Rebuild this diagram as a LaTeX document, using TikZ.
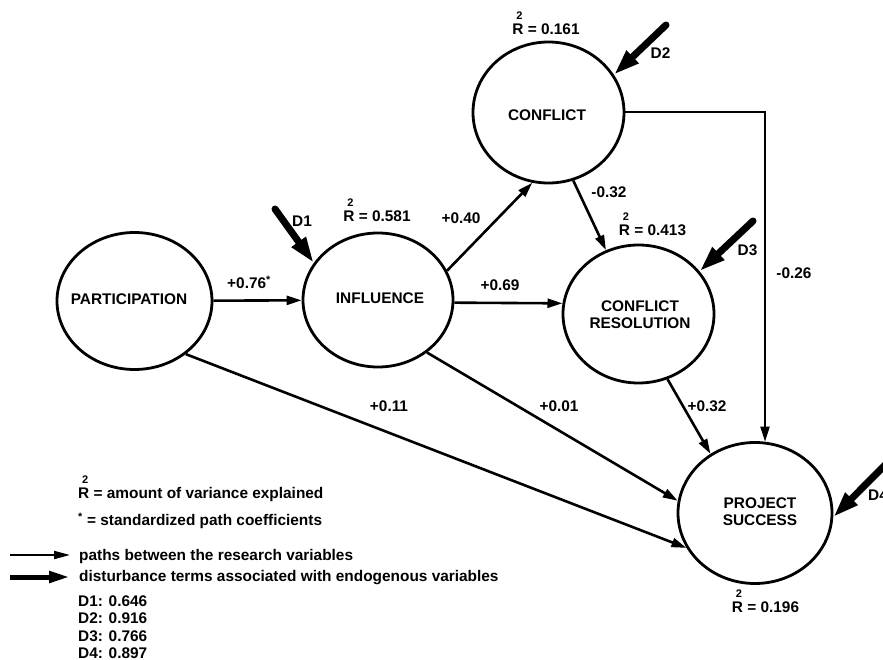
\documentclass[tikz,border=0pt]{standalone}
\usepackage{fontspec}
\setmainfont{Liberation Sans}
\usetikzlibrary{arrows.meta,shapes.geometric}
\newcommand\Rtwo{\makebox[0pt][l]{\hspace{0.26em}\raisebox{0.95em}{\fontsize{11bp}{11bp}\selectfont 2}}R}
\begin{document}
\begin{tikzpicture}[x=1bp,y=-1bp,
  font=\fontsize{15.4bp}{17bp}\selectfont\bfseries,
  var/.style={ellipse, draw, line width=2.8bp, inner sep=0pt},
  lbl/.style={inner sep=0pt},
  legtext/.style={inner sep=0pt, anchor=base west},
  pathar/.style={line width=2.6bp, -{Triangle[length=15bp,width=9bp]}},
  distar/.style={line width=7bp, line cap=round, -{Triangle[length=26bp,width=16bp]}},
]
\useasboundingbox (0,0) rectangle (883,660);

% variables
\node[var, minimum width=155bp, minimum height=137bp] (part) at (134.5,301) {};
\node[var, minimum width=150bp, minimum height=134bp] (infl) at (378,300) {};
\node[var, minimum width=151bp, minimum height=141bp] (conf) at (548.5,112.5) {};
\node[var, minimum width=151bp, minimum height=138bp] (cr) at (638.5,314) {};
\node[var, minimum width=154bp, minimum height=141bp] (ps) at (755,513) {};

\node[lbl] (partt) at (129,299) {PARTICIPATION};
\node[lbl] (inflt) at (380,298) {INFLUENCE};
\node[lbl] (conft) at (547,115) {CONFLICT};
\node[lbl, align=center] (crt) at (640,314.5) {CONFLICT\\RESOLUTION};
\node[lbl, align=center] (pst) at (760,511.5) {PROJECT\\SUCCESS};

% R squared
\node[lbl, anchor=base] (r1) at (546,34.3) {\Rtwo{} = 0.161};
\node[lbl, anchor=base] (r2) at (377,221.3) {\Rtwo{} = 0.581};
\node[lbl, anchor=base] (r3) at (652.5,235.3) {\Rtwo{} = 0.413};
\node[lbl, anchor=base] (r4) at (765.5,612.3) {\Rtwo{} = 0.196};

% paths
\draw[pathar] (part) -- (infl);
\draw[pathar] (infl.23) -- (conf.257);
\draw[pathar] (infl.358) -- (cr.172);
\draw[pathar] (conf.290) -- (cr.117);
\draw[pathar] (cr.294) -- (ps.127);
\draw[pathar] (infl.313) -- (ps.171);
\draw[pathar] (part.314) -- (ps.207);
\draw[pathar, line width=2bp] (conf.east) -| (ps.82);

% path labels
\node[lbl, anchor=base west] (l1) at (227,288.3) {+0.76\textsuperscript{*}};
\node[lbl] (l2) at (461,218) {+0.40};
\node[lbl] (l3) at (500,285) {+0.69};
\node[lbl] (l4) at (609,192.5) {-0.32};
\node[lbl] (l5) at (794,273) {-0.26};
\node[lbl] (l6) at (707,406) {+0.32};
\node[lbl] (l7) at (559,406) {+0.01};
\node[lbl] (l8) at (389,406) {+0.11};

% disturbances
\coordinate (d1s) at (275,209);
\draw[distar] (d1s) -- (infl.150);
\node[lbl] (d1) at (302,221) {D1};
\coordinate (d2s) at (666,25);
\draw[distar] (d2s) -- (conf.30);
\node[lbl] (d2) at (660.5,53) {D2};
\coordinate (d3s) at (753,221);
\draw[distar] (d3s) -- (cr.35);
\node[lbl] (d3) at (747.5,250) {D3};
\coordinate (d4s) at (886,464);
\draw[distar] (d4s) -- (ps.357);
\node[lbl, anchor=west] (d4) at (868,495) {D4};

% legend
\node[legtext] (g1) at (78,498.3) {\Rtwo{} = amount of variance explained};
\node[legtext] (g2) at (78,525.3) {\textsuperscript{*} = standardized path coefficients};
\coordinate (la1) at (10,555);
\coordinate (la2) at (70,555);
\draw[line width=2bp, -{Triangle[length=16bp,width=8bp]}] (la1) -- (la2);
\node[legtext] (g3) at (79,560) {paths between the research variables};
\coordinate (lb1) at (10,577);
\coordinate (lb2) at (70,577);
\draw[line width=5bp, -{Triangle[length=21bp,width=11bp]}] (lb1) -- (lb2);
\node[legtext] (g4) at (79,581.5) {disturbance terms associated with endogenous variables};
\node[legtext] (g5) at (78,606.5) {D1: 0.646};
\node[legtext] (g6) at (78,623.8) {D2: 0.916};
\node[legtext] (g7) at (78,641.1) {D3: 0.766};
\node[legtext] (g8) at (78,658.4) {D4: 0.897};
\end{tikzpicture}
\end{document}
